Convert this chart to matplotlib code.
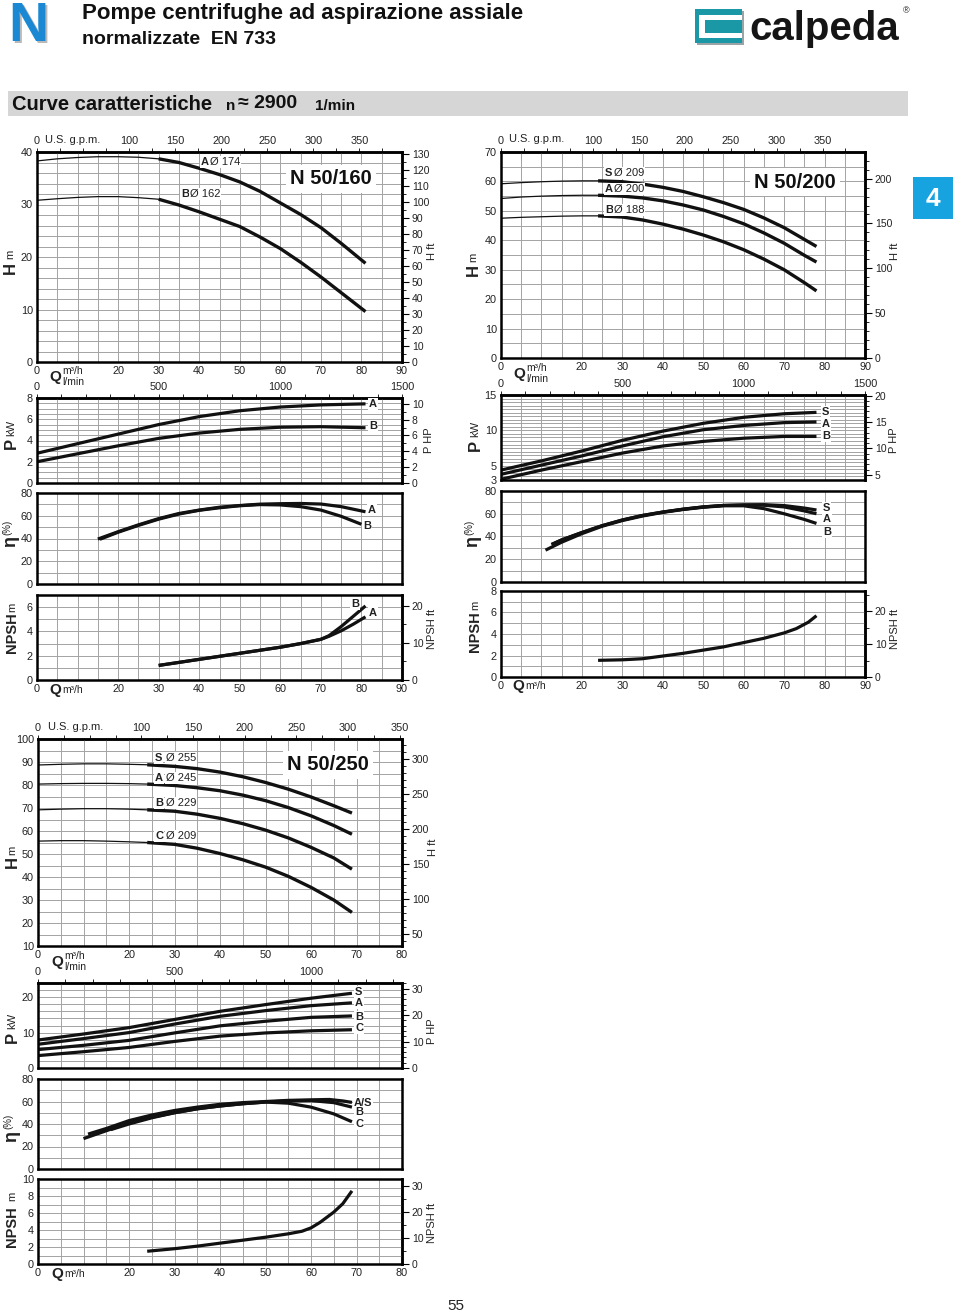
import matplotlib
matplotlib.use("Agg")
import matplotlib.pyplot as plt
from matplotlib.ticker import MultipleLocator
from matplotlib.patches import Rectangle

plt.rcParams['font.family'] = ['Liberation Sans', 'DejaVu Sans']

W, HT = 960, 1314
fig = plt.figure(figsize=(W / 100, HT / 100), dpi=100, facecolor='white')

M2FT = 3.28084
KW2HP = 1.34102
M3H2GPM = 4.40287
M3H2LMIN = 1000 / 60

# ------------------------------------------------------------------ data
# N 50/160
q160_h = [0, 5, 10, 15, 20, 25, 30, 35, 40, 45, 50, 55, 60, 65, 70, 75, 81]
h160_A = [38.3, 38.7, 38.95, 39.1, 39.1, 39.0, 38.7, 38.0, 36.9, 35.7, 34.3, 32.5, 30.3, 28.1, 25.6, 22.6, 18.8]
h160_B = [30.8, 31.1, 31.35, 31.5, 31.5, 31.3, 31.0, 29.9, 28.6, 27.2, 25.8, 23.8, 21.6, 19.0, 16.2, 13.2, 9.6]
q160_p = [0, 10, 20, 30, 40, 50, 60, 70, 81]
p160_A = [2.8, 3.7, 4.6, 5.5, 6.25, 6.8, 7.15, 7.35, 7.45]
p160_B = [2.0, 2.75, 3.5, 4.2, 4.7, 5.05, 5.25, 5.3, 5.2]
q160_eA = [15, 20, 25, 30, 35, 40, 45, 50, 55, 60, 65, 70, 75, 81]
e160_A = [39.5, 46, 52, 57.5, 62, 65, 67.5, 69, 70.2, 70.6, 70.8, 70.3, 68, 63.5]
q160_eB = [15.5, 20, 25, 30, 35, 40, 45, 50, 55, 60, 65, 70, 75, 80]
e160_B = [39.3, 45.5, 51.5, 57, 61.5, 64.8, 67, 68.8, 69.8, 69.5, 68, 65, 59.5, 52.5]
q160_n = [30, 40, 50, 60, 65, 70, 72, 75, 78, 81]
n160_A = [1.2, 1.7, 2.2, 2.7, 3.0, 3.35, 3.6, 4.05, 4.6, 5.2]
n160_B = [1.2, 1.7, 2.2, 2.7, 3.0, 3.35, 3.65, 4.4, 5.25, 6.1]

# N 50/200
q200_h = [0, 5, 10, 15, 20, 24, 30, 35, 40, 45, 50, 55, 60, 65, 70, 75, 78]
h200_S = [59.2, 59.6, 59.9, 60.1, 60.2, 60.2, 59.9, 59.1, 58.0, 56.6, 54.8, 52.8, 50.5, 47.6, 44.3, 40.3, 37.9]
h200_A = [54.2, 54.7, 55.0, 55.2, 55.3, 55.3, 55.0, 54.4, 53.4, 52.0, 50.3, 48.1, 45.6, 42.5, 39.0, 34.9, 32.6]
h200_B = [47.5, 47.8, 48.0, 48.2, 48.3, 48.3, 47.9, 46.9, 45.5, 43.8, 41.8, 39.5, 36.8, 33.6, 30.0, 25.6, 22.8]
q200_p = [0, 10, 20, 30, 40, 50, 60, 70, 78]
p200_S = [4.4, 5.7, 7.1, 8.6, 9.9, 11.0, 11.85, 12.35, 12.55]
p200_A = [3.8, 5.1, 6.4, 7.8, 9.1, 10.1, 10.7, 11.1, 11.2]
p200_B = [3.1, 4.4, 5.6, 6.8, 7.8, 8.45, 8.9, 9.15, 9.15]
q200_eS = [12.5, 15, 20, 25, 30, 35, 40, 45, 50, 55, 60, 65, 70, 75, 78]
e200_S = [33, 37, 43.5, 49.5, 54.5, 58.5, 61.5, 64, 66, 67.3, 67.8, 68, 67.2, 65, 63.3]
e200_A = [33, 37, 43.5, 49.5, 54.5, 58.5, 61.5, 64, 66, 67.3, 67.6, 67.5, 66, 62.5, 60]
q200_eB = [11, 15, 20, 25, 30, 35, 40, 45, 50, 55, 60, 65, 70, 75, 78]
e200_B = [28, 35, 42.5, 49, 54, 58, 61.2, 63.7, 65.7, 67, 67, 64.5, 60, 55, 51.5]
q200_n = [24, 30, 35, 40, 45, 50, 55, 60, 65, 70, 73, 76, 78]
n200 = [1.55, 1.6, 1.7, 1.95, 2.2, 2.5, 2.8, 3.2, 3.6, 4.1, 4.5, 5.1, 5.7]

# N 50/250
q250_h = [0, 5, 10, 15, 20, 24, 30, 35, 40, 45, 50, 55, 60, 65, 69]
h250_S = [88.7, 89.0, 89.2, 89.2, 89.0, 88.8, 88.1, 87.1, 85.6, 83.6, 81.1, 78.2, 74.8, 71.0, 67.8]
h250_A = [80.4, 80.6, 80.7, 80.7, 80.6, 80.4, 79.8, 78.8, 77.5, 75.6, 73.2, 70.2, 66.6, 62.4, 58.6]
h250_B = [69.2, 69.5, 69.7, 69.7, 69.5, 69.2, 68.6, 67.3, 65.5, 63.2, 60.4, 57.0, 52.9, 48.3, 43.4]
h250_C = [55.6, 55.8, 55.8, 55.6, 55.3, 55.0, 54.2, 52.5, 50.2, 47.5, 44.3, 40.3, 35.5, 30.0, 24.6]
q250_p = [0, 10, 20, 30, 40, 50, 60, 69]
p250_S = [7.9, 9.6, 11.4, 13.7, 16.0, 17.9, 19.7, 21.1]
p250_A = [6.7, 8.3, 10.0, 12.4, 14.6, 16.2, 17.6, 18.4]
p250_B = [5.2, 6.4, 7.8, 9.9, 11.9, 13.2, 14.3, 14.7]
p250_C = [3.5, 4.6, 5.8, 7.5, 9.0, 9.9, 10.5, 10.8]
q250_eS = [11, 15, 20, 25, 30, 35, 40, 45, 50, 55, 60, 64, 67, 69]
e250_S = [31, 36, 43, 48, 52, 55, 57.5, 59, 60, 61, 61.5, 61.8, 60.5, 59.2]
q250_eB = [16, 20, 25, 30, 35, 40, 45, 50, 55, 60, 65, 69]
e250_B = [35, 40, 45.5, 50, 53.5, 56, 58, 59.5, 60.5, 60.8, 59, 55]
q250_eC = [10, 15, 20, 25, 30, 35, 40, 45, 50, 55, 60, 65, 69]
e250_C = [27, 34, 41, 46, 50, 53.5, 56, 58, 59.5, 58.5, 55, 49, 42]
q250_n = [24, 30, 35, 40, 45, 50, 55, 58, 60, 62, 65, 67, 69]
n250 = [1.5, 1.8, 2.1, 2.45, 2.8, 3.15, 3.55, 3.85, 4.25, 4.9, 6.1, 7.1, 8.6]

GRID = '#a3a3a3'
TXT = '#222222'
TICKFS = 7.8


def ftxt(x, y, s, **kw):
    kw.setdefault('color', TXT)
    return fig.text(x / W, 1 - y / HT, s, **kw)


def panel(rect, qmax, ylim, yticks, ystep, xlabels=None):
    l, t, r, b = rect
    ax = fig.add_axes([l / W, 1 - b / HT, (r - l) / W, (b - t) / HT])
    ax.set_xlim(0, qmax)
    ax.set_ylim(*ylim)
    ax.set_xticks(list(range(0, qmax + 1, 10)))
    ax.xaxis.set_minor_locator(MultipleLocator(5))
    ax.set_yticks(yticks)
    ax.yaxis.set_minor_locator(MultipleLocator(ystep))
    ax.grid(which='both', color=GRID, lw=0.7)
    ax.set_axisbelow(True)
    for s in ax.spines.values():
        s.set_linewidth(1.8)
    ax.tick_params(which='both', length=0, labelsize=TICKFS, pad=3, labelcolor=TXT)
    if xlabels is None:
        ax.set_xticklabels([])
    else:
        ax.set_xticklabels(xlabels)
    return ax


def right_axis(ax, factor, ticks, minor):
    sec = ax.secondary_yaxis('right', functions=(lambda v: v * factor, lambda v: v / factor))
    sec.set_yticks(ticks)
    sec.yaxis.set_minor_locator(MultipleLocator(minor))
    sec.tick_params(which='major', direction='out', length=5, width=0.8, labelsize=TICKFS - 0.3,
                    pad=2, labelcolor=TXT)
    sec.tick_params(which='minor', direction='out', length=3, width=0.6)
    sec.spines['right'].set_linewidth(1.8)
    return sec


def top_gpm(ax, labels):
    sec = ax.secondary_xaxis('top', functions=(lambda v: v * M3H2GPM, lambda v: v / M3H2GPM))
    sec.set_xticks([0, 100, 150, 200, 250, 300, 350])
    sec.set_xticklabels(labels)
    sec.xaxis.set_minor_locator(MultipleLocator(25))
    sec.tick_params(which='both', direction='out', length=3, width=0.6, labelsize=TICKFS, pad=1,
                    labelcolor=TXT)
    sec.spines['top'].set_linewidth(1.8)
    return sec


def top_lmin(ax, ticks):
    sec = ax.secondary_xaxis('top', functions=(lambda v: v * M3H2LMIN, lambda v: v / M3H2LMIN))
    sec.set_xticks(ticks)
    sec.xaxis.set_minor_locator(MultipleLocator(100))
    sec.tick_params(which='both', direction='out', length=3, width=0.6, labelsize=TICKFS, pad=1,
                    labelcolor=TXT)
    sec.spines['top'].set_linewidth(1.8)
    return sec


def hcurve(ax, q, h, qsplit):
    k = q.index(qsplit)
    ax.plot(q[:k + 1], h[:k + 1], color='#111', lw=0.9, solid_joinstyle='round')
    ax.plot(q[k:], h[k:], color='#111', lw=2.4, solid_capstyle='butt', solid_joinstyle='round')


def curve(ax, q, v):
    ax.plot(q, v, color='#111', lw=2.3, solid_capstyle='butt', solid_joinstyle='round')


def vtext(x, y, s, fs, bold=False):
    ftxt(x, y, s, fontsize=fs, rotation=90, ha='center', va='center',
         fontweight='bold' if bold else 'normal')


def qlabel(x, y, two=True):
    ftxt(x, y, 'Q', fontsize=11, fontweight='bold', ha='center', va='center')
    if two:
        ftxt(x + 7, y - 6, 'm³/h', fontsize=7.5, ha='left', va='center')
        ftxt(x + 7, y + 5, 'l/min', fontsize=7.5, ha='left', va='center')
    else:
        ftxt(x + 7, y, 'm³/h', fontsize=7.5, ha='left', va='center')


def clabel(x, y, bold, rest=None, dx=9):
    bb = dict(facecolor='white', edgecolor='none', pad=0.5)
    ftxt(x, y, bold, fontsize=8, fontweight='bold', ha='left', va='center', bbox=bb)
    if rest:
        ftxt(x + dx, y, rest, fontsize=8, ha='left', va='center', bbox=bb)


def title(x, y, s):
    ftxt(x, y, s, fontsize=14.5, fontweight='bold', ha='center', va='center', color='#111',
         bbox=dict(facecolor='white', edgecolor='none', pad=3))


# ------------------------------------------------------------------ header
ftxt(10, 29, 'N', fontsize=40, fontweight='bold', ha='left', va='center', color='#b9b9b9')
ftxt(8, 27, 'N', fontsize=40, fontweight='bold', ha='left', va='center', color='#1a88d2')
ftxt(82, 13, 'Pompe centrifughe ad aspirazione assiale', fontsize=16, fontweight='bold',
     ha='left', va='center', color='#111')
ftxt(82, 39, 'normalizzate  EN 733', fontsize=14, fontweight='bold', ha='left', va='center', color='#111')

# logo
fig.patches.append(Rectangle((697 / W, 1 - 45 / HT), 47 / W, 34 / HT, transform=fig.transFigure,
                             facecolor='#9aa3a6', edgecolor='none'))
fig.patches.append(Rectangle((695 / W, 1 - 43 / HT), 47 / W, 34 / HT, transform=fig.transFigure,
                             facecolor='#1a98a6', edgecolor='none'))
fig.patches.append(Rectangle((699 / W, 1 - 38 / HT), 43 / W, 23 / HT, transform=fig.transFigure,
                             facecolor='white', edgecolor='none'))
fig.patches.append(Rectangle((705 / W, 1 - 33 / HT), 37 / W, 13 / HT, transform=fig.transFigure,
                             facecolor='#1a98a6', edgecolor='none'))
ftxt(749, 29, 'calpeda', fontsize=29, fontweight='bold', ha='left', va='center', color='#151515')
ftxt(906, 11, '®', fontsize=6.5, ha='center', va='center', color='#151515')

# gray band
fig.patches.append(Rectangle((8 / W, 1 - 116 / HT), 900 / W, 25 / HT, transform=fig.transFigure,
                             facecolor='#d6d6d6', edgecolor='none'))
ftxt(12, 104, 'Curve caratteristiche', fontsize=14.5, fontweight='bold', ha='left', va='center', color='#111')
ftxt(226, 106, 'n', fontsize=11, fontweight='bold', ha='left', va='center', color='#111')
ftxt(238, 104, '≈ 2900', fontsize=14, fontweight='bold', ha='left', va='center', color='#111')
ftxt(315, 106, '1/min', fontsize=11, fontweight='bold', ha='left', va='center', color='#111')

# blue tab
fig.patches.append(Rectangle((913 / W, 1 - 219 / HT), 40 / W, 42 / HT, transform=fig.transFigure,
                             facecolor='#17a2e0', edgecolor='none'))
ftxt(933, 199, '4', fontsize=19, fontweight='bold', ha='center', va='center', color='white')

ftxt(456, 1306, '55', fontsize=11, ha='center', va='center', color='#222')

# ------------------------------------------------------------------ N 50/160
xl90 = ['0', '', '20', '30', '40', '50', '60', '70', '80', '90']
axH = panel((37, 152, 402, 362), 90, (0, 40), [0, 10, 20, 30, 40], 2, xl90)
right_axis(axH, M2FT, list(range(0, 131, 10)), 5)
top_gpm(axH, ['0', '100', '150', '200', '250', '300', '350'])
hcurve(axH, q160_h, h160_A, 30)
hcurve(axH, q160_h, h160_B, 30)
ftxt(45, 140, 'U.S. g.p.m.', fontsize=8, ha='left', va='center')
title(331, 179, 'N 50/160')
clabel(201, 162, 'A', 'Ø 174')
clabel(181, 194, 'B', 'Ø 162')
qlabel(55, 377)

axP = panel((37, 398, 402, 483), 90, (0, 8), [0, 2, 4, 6, 8], 0.5)
right_axis(axP, KW2HP, [0, 2, 4, 6, 8, 10], 1)
top_lmin(axP, [0, 500, 1000, 1500])
curve(axP, q160_p, p160_A)
curve(axP, q160_p, p160_B)
clabel(369, 404, 'A')
clabel(369, 426, 'B')

axE = panel((37, 493, 402, 584), 90, (0, 80), [0, 20, 40, 60, 80], 10)
curve(axE, q160_eA, e160_A)
curve(axE, q160_eB, e160_B)
clabel(368, 510, 'A')
clabel(363, 526, 'B')

axN = panel((37, 595, 402, 680), 90, (0, 7), [0, 2, 4, 6], 1, xl90)
right_axis(axN, M2FT, [0, 10, 20], 5)
curve(axN, q160_n, n160_A)
curve(axN, q160_n, n160_B)
clabel(351, 604, 'B')
clabel(369, 613, 'A')
qlabel(55, 690, two=False)

vtext(10, 268, 'H', 12, True); vtext(10, 254, 'm', 8)
vtext(11, 443, 'P', 12, True); vtext(11, 428, 'kW', 8)
vtext(11, 542, 'η', 13, True); vtext(7, 527, '(%)', 7)
vtext(12, 633, 'NPSH', 10.5, True); vtext(12, 607, 'm', 8)
vtext(432, 251, 'H ft', 8); vtext(429, 440, 'P HP', 8); vtext(432, 629, 'NPSH ft', 8)

# ------------------------------------------------------------------ N 50/200
axH = panel((501, 152, 865, 358), 90, (0, 70), [0, 10, 20, 30, 40, 50, 60, 70], 5, xl90)
right_axis(axH, M2FT, [0, 50, 100, 150, 200], 10)
top_gpm(axH, ['0', '100', '150', '200', '250', '300', '350'])
hcurve(axH, q200_h, h200_S, 24)
hcurve(axH, q200_h, h200_A, 24)
hcurve(axH, q200_h, h200_B, 24)
ftxt(509, 139, 'U.S. g.p.m.', fontsize=8, ha='left', va='center')
title(795, 182, 'N 50/200')
clabel(605, 173, 'S', 'Ø 209')
clabel(605, 189, 'A', 'Ø 200')
clabel(605, 210, 'B', 'Ø 188')
qlabel(519, 374)

axP = panel((501, 395, 865, 480), 90, (3, 15), [3, 5, 10, 15], 0.5)
right_axis(axP, KW2HP, [5, 10, 15, 20], 1)
top_lmin(axP, [0, 500, 1000, 1500])
curve(axP, q200_p, p200_S)
curve(axP, q200_p, p200_A)
curve(axP, q200_p, p200_B)
clabel(822, 412, 'S')
clabel(822, 424, 'A')
clabel(822, 436, 'B')

axE = panel((501, 491, 865, 582), 90, (0, 80), [0, 20, 40, 60, 80], 10)
curve(axE, q200_eS, e200_S)
curve(axE, q200_eS, e200_A)
curve(axE, q200_eB, e200_B)
clabel(823, 508, 'S')
clabel(823, 519, 'A')
clabel(823, 532, 'B')

axN = panel((501, 591, 865, 677), 90, (0, 8), [0, 2, 4, 6, 8], 1, xl90)
right_axis(axN, M2FT, [0, 10, 20], 5)
curve(axN, q200_n, n200)
qlabel(518, 686, two=False)

vtext(473, 270, 'H', 12, True); vtext(473, 257, 'm', 8)
vtext(475, 445, 'P', 12, True); vtext(475, 429, 'kW', 8)
vtext(473, 542, 'η', 13, True); vtext(469, 527, '(%)', 7)
vtext(475, 632, 'NPSH', 10.5, True); vtext(475, 605, 'm', 8)
vtext(895, 251, 'H ft', 8); vtext(894, 440, 'P HP', 8); vtext(895, 629, 'NPSH ft', 8)

# ------------------------------------------------------------------ N 50/250
xl80 = ['0', '', '20', '30', '40', '50', '60', '70', '80']
axH = panel((38, 739, 402, 946), 80, (10, 100), list(range(10, 101, 10)), 5, xl80)
right_axis(axH, M2FT, [50, 100, 150, 200, 250, 300], 10)
top_gpm(axH, ['0', '100', '150', '200', '250', '300', '350'])
hcurve(axH, q250_h, h250_S, 24)
hcurve(axH, q250_h, h250_A, 24)
hcurve(axH, q250_h, h250_B, 24)
hcurve(axH, q250_h, h250_C, 24)
ftxt(48, 727, 'U.S. g.p.m.', fontsize=8, ha='left', va='center')
title(328, 765, 'N 50/250')
clabel(155, 758, 'S', 'Ø 255', 11)
clabel(155, 778, 'A', 'Ø 245', 11)
clabel(155, 803, 'B', 'Ø 229', 11)
clabel(155, 836, 'C', 'Ø 209', 11)
qlabel(57, 962)

axP = panel((38, 983, 402, 1068), 80, (0, 24), [0, 10, 20], 2)
right_axis(axP, KW2HP, [0, 10, 20, 30], 2)
top_lmin(axP, [0, 500, 1000])
curve(axP, q250_p, p250_S)
curve(axP, q250_p, p250_A)
curve(axP, q250_p, p250_B)
curve(axP, q250_p, p250_C)
clabel(355, 992, 'S')
clabel(355, 1003, 'A')
clabel(355, 1017, 'B')
clabel(355, 1028, 'C')

axE = panel((38, 1079, 402, 1169), 80, (0, 80), [0, 20, 40, 60, 80], 10)
curve(axE, q250_eS, e250_S)
curve(axE, q250_eB, e250_B)
curve(axE, q250_eC, e250_C)
clabel(354, 1103, 'A/S')
clabel(355, 1112, 'B')
clabel(355, 1124, 'C')

axN = panel((38, 1179, 402, 1264), 80, (0, 10), list(range(0, 11, 2)), 1, xl80)
right_axis(axN, M2FT, [0, 10, 20, 30], 5)
curve(axN, q250_n, n250)
qlabel(57, 1274, two=False)

vtext(12, 862, 'H', 12, True); vtext(12, 850, 'm', 8)
vtext(12, 1037, 'P', 12, True); vtext(12, 1021, 'kW', 8)
vtext(12, 1137, 'η', 13, True); vtext(8, 1121, '(%)', 7)
vtext(12, 1227, 'NPSH', 10.5, True); vtext(12, 1196, 'm', 8)
vtext(433, 847, 'H ft', 8); vtext(432, 1031, 'P HP', 8); vtext(432, 1223, 'NPSH ft', 8)

fig.savefig('out.png', dpi=100, facecolor='white')
